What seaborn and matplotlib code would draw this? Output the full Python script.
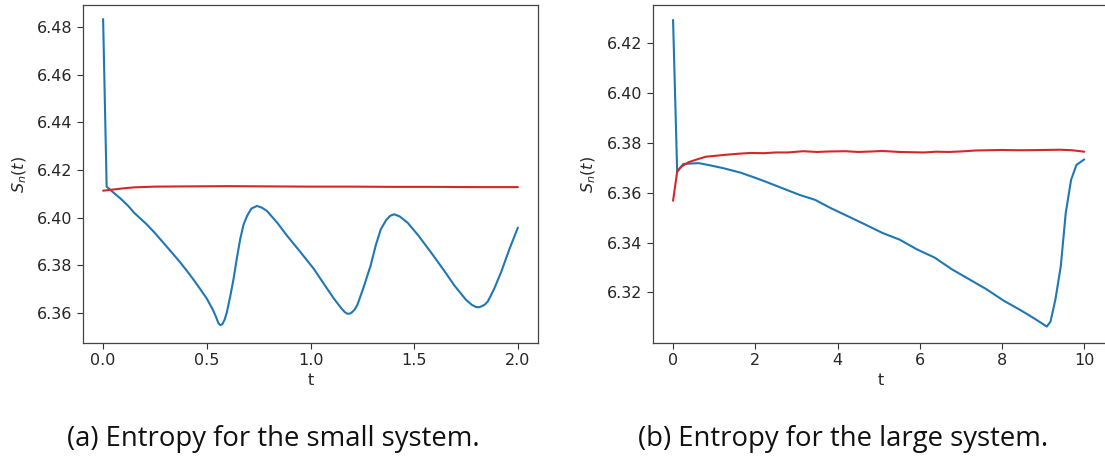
import matplotlib
matplotlib.use("Agg")
import matplotlib.pyplot as plt
import seaborn as sns
import pandas as pd

# ---- data ----
t_small_blue = [0.000, 0.017, 0.05, 0.089, 0.12, 0.15, 0.18, 0.21, 0.25, 0.29, 0.33, 0.371, 0.41,
                0.44, 0.47, 0.50, 0.53, 0.545, 0.556, 0.565, 0.575, 0.586, 0.597, 0.613, 0.629,
                0.645, 0.661, 0.677, 0.694, 0.715, 0.742, 0.765, 0.79, 0.84, 0.887, 0.95, 1.016,
                1.07, 1.113, 1.15, 1.165, 1.177, 1.19, 1.20, 1.213, 1.226, 1.255, 1.29, 1.315,
                1.339, 1.365, 1.385, 1.403, 1.43, 1.468, 1.52, 1.581, 1.64, 1.694, 1.75, 1.778,
                1.798, 1.812, 1.825, 1.84, 1.855, 1.885, 1.919, 1.96, 2.00]
s_small_blue = [6.4833, 6.4130, 6.4105, 6.4076, 6.4050, 6.4020, 6.3996, 6.3972, 6.3935, 6.3895,
                6.3855, 6.3813, 6.3770, 6.3735, 6.3698, 6.3660, 6.3612, 6.3582, 6.3557, 6.3549,
                6.3553, 6.3572, 6.3604, 6.3670, 6.3743, 6.3830, 6.3910, 6.3970, 6.4007, 6.4038,
                6.4049, 6.4042, 6.4028, 6.3978, 6.3924, 6.3857, 6.3785, 6.3715, 6.3660, 6.3618,
                6.3604, 6.3597, 6.3597, 6.3603, 6.3614, 6.3634, 6.3705, 6.3799, 6.3885, 6.3951,
                6.3990, 6.4008, 6.4014, 6.4005, 6.3979, 6.3925, 6.3854, 6.3783, 6.3715, 6.3655,
                6.3634, 6.3625, 6.3624, 6.3628, 6.3635, 6.3648, 6.3700, 6.3771, 6.3870, 6.3958]

t_small_red = [0.0, 0.05, 0.1, 0.15, 0.25, 0.4, 0.6, 0.8, 1.0, 1.2, 1.4, 1.6, 1.8, 2.0]
s_small_red = [6.4113, 6.4118, 6.4123, 6.4127, 6.4130, 6.4131, 6.4132, 6.4131, 6.4130, 6.4130,
               6.4129, 6.4129, 6.4128, 6.4128]

t_large_blue = [0.0, 0.1, 0.25, 0.63, 0.88, 1.22, 1.64, 2.02, 2.31, 2.65, 3.07, 3.45, 3.83, 4.25,
                4.67, 5.09, 5.51, 5.93, 6.36, 6.78, 7.2, 7.62, 8.04, 8.47, 8.8, 9.09, 9.18, 9.3,
                9.43, 9.55, 9.68, 9.81, 10.0]
s_large_blue = [6.4294, 6.3685, 6.3716, 6.3719, 6.3711, 6.3699, 6.3681, 6.3659, 6.3641, 6.3619,
                6.3592, 6.3572, 6.3539, 6.3506, 6.3473, 6.3439, 6.3412, 6.3373, 6.3340, 6.3293,
                6.3253, 6.3213, 6.3167, 6.3127, 6.3094, 6.3063, 6.3083, 6.3173, 6.3306, 6.3519,
                6.3652, 6.3712, 6.3734]

t_large_red = [0.0, 0.1, 0.2, 0.38, 0.6, 0.8, 1.0, 1.3, 1.6, 1.89, 2.2, 2.5, 2.8, 3.16, 3.5, 3.8,
               4.2, 4.5, 4.84, 5.1, 5.5, 5.8, 6.1, 6.4, 6.7, 7.0, 7.37, 7.7, 8.0, 8.3, 8.6, 9.05,
               9.4, 9.7, 10.0]
s_large_red = [6.3568, 6.3685, 6.3705, 6.3723, 6.3735, 6.3745, 6.3748, 6.3753, 6.3757, 6.3760,
               6.3759, 6.3762, 6.3762, 6.3767, 6.3764, 6.3766, 6.3767, 6.3764, 6.3766, 6.3768,
               6.3764, 6.3763, 6.3762, 6.3765, 6.3764, 6.3766, 6.3770, 6.3771, 6.3772, 6.3771,
               6.3771, 6.3772, 6.3773, 6.3771, 6.3765]

x_ticks_small = [0.0, 0.5, 1.0, 1.5, 2.0]
x_ticks_large = [0, 2, 4, 6, 8, 10]
y_ticks_small = [6.36, 6.38, 6.40, 6.42, 6.44, 6.46, 6.48]
y_ticks_large = [6.32, 6.34, 6.36, 6.38, 6.40, 6.42]
captions = ["(a) Entropy for the small system.", "(b) Entropy for the large system."]

BLUE = "#1f77b4"
RED = "#d62728"

sns.set_style("ticks")
plt.rcParams["font.family"] = ["DejaVu Sans"]
plt.rcParams["font.size"] = 10.5

fig = plt.figure(figsize=(11.05, 4.61), dpi=100)
W, H = 1105, 461
ax1 = fig.add_axes([83 / W, (H - 343) / H, (538 - 83) / W, 338 / H])
ax2 = fig.add_axes([652.5 / W, (H - 343) / H, 456 / W, 338 / H])

df_sb = pd.DataFrame({"t": t_small_blue, "S": s_small_blue})
df_sr = pd.DataFrame({"t": t_small_red, "S": s_small_red})
df_lb = pd.DataFrame({"t": t_large_blue, "S": s_large_blue})
df_lr = pd.DataFrame({"t": t_large_red, "S": s_large_red})

sns.lineplot(data=df_sb, x="t", y="S", ax=ax1, color=BLUE, lw=1.5, sort=False)
sns.lineplot(data=df_sr, x="t", y="S", ax=ax1, color=RED, lw=1.5, sort=False)
sns.lineplot(data=df_lb, x="t", y="S", ax=ax2, color=BLUE, lw=1.5, sort=False)
sns.lineplot(data=df_lr, x="t", y="S", ax=ax2, color=RED, lw=1.5, sort=False)

for ax, xt, yt in [(ax1, x_ticks_small, y_ticks_small), (ax2, x_ticks_large, y_ticks_large)]:
    ax.set_xticks(xt)
    ax.set_yticks(yt)
    ax.set_xlabel("t", fontsize=11.5, labelpad=3)
    ax.set_ylabel("$S_n(t)$", fontsize=11.5, labelpad=6)
    ax.tick_params(labelsize=11.5, length=4, width=0.8, color="#333333")
    for sp in ax.spines.values():
        sp.set_visible(True)
        sp.set_color("#444444")
        sp.set_linewidth(0.9)

ax1.set_xticklabels([f"{v:.1f}" for v in x_ticks_small])
ax1.set_yticklabels([f"{v:.2f}" for v in y_ticks_small])
ax2.set_xticklabels([str(v) for v in x_ticks_large])
ax2.set_yticklabels([f"{v:.2f}" for v in y_ticks_large])
ax1.set_xlim(-0.097, 2.097)
ax1.set_ylim(6.3474, 6.4892)
ax2.set_xlim(-0.5, 10.59)
ax2.set_ylim(6.2997, 6.4354)

fig.text(273 / W, 1 - 439 / H, captions[0], ha="center", va="center", fontsize=19.8,
         family=["Open Sans", "DejaVu Sans"], color="#111111")
fig.text(843 / W, 1 - 439 / H, captions[1], ha="center", va="center", fontsize=19.8,
         family=["Open Sans", "DejaVu Sans"], color="#111111")

fig.savefig("out.png", dpi=100)
